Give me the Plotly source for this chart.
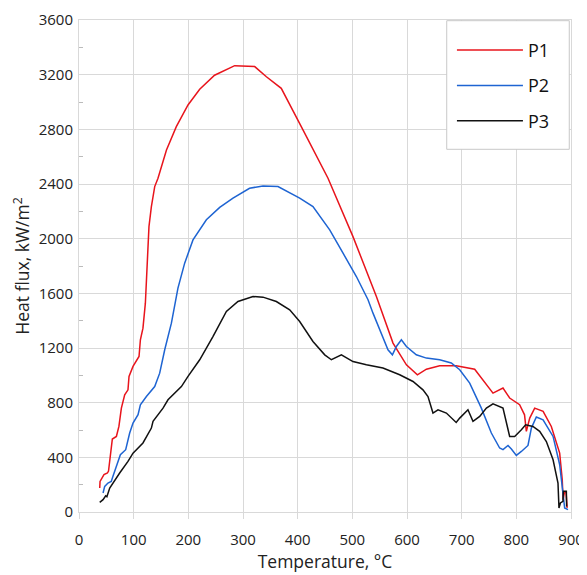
import plotly.graph_objects as go

# P1 (red)
p1_t = [37.9, 38.5, 45.7, 52, 54, 61, 68.4, 73, 77.5, 83.6, 89.6, 91.5, 98.8, 109.8, 112.3, 117,
        121.4, 123.2, 126.2, 128, 132.4, 138.5, 144.5, 160, 178, 199.4, 220.8, 248, 284.8, 321.4,
        342.8, 370, 409.7, 455.5, 501.2, 544, 574.4, 598.9, 619, 635.5, 659.8, 690, 723.8, 757.3,
        775.6, 787.8, 806, 815, 818.3, 824.5, 833.6, 849, 864, 879.3, 884, 885.5, 888.4, 891, 893]
p1_v = [175, 224, 273, 285, 300, 534, 553, 626, 760, 858, 894, 992, 1065, 1138, 1260, 1345,
        1528, 1699, 1869, 2088, 2235, 2381, 2442, 2649, 2820, 2978, 3093, 3196, 3266, 3259,
        3185, 3100, 2796, 2442, 2015, 1577, 1236, 1077, 1004, 1045, 1070, 1070, 1045, 870,
        907, 834, 785, 711, 590, 687, 760, 736, 626, 431, 236, 90, 151, 140, 30]

# P2 (blue)
p2_t = [44, 47, 53, 59, 62, 71.3, 75.7, 85.4, 92.7, 98.8, 108, 112.3, 123.3, 138.5, 147.6, 156.8,
        169, 181, 193.3, 208.5, 233, 257.4, 281.7, 312, 336.6, 364, 403.7, 428, 458.6, 483, 507.4,
        528.7, 537.8, 565.2, 573.3, 580.6, 589.7, 598.9, 617, 635.5, 659.8, 681, 696.4, 714.7, 736,
        754.3, 769.5, 775.6, 784.8, 790.9, 800, 809.2, 821.3, 827.5, 836.6, 848.9, 867.2, 879.3,
        885.3, 888.4, 894.5]
p2_v = [139, 187, 212, 224, 260, 370, 419, 456, 578, 651, 712, 785, 845, 918, 1016, 1187,
        1382, 1638, 1821, 1991, 2138, 2229, 2296, 2369, 2386, 2381, 2296, 2235, 2064, 1894, 1723,
        1553, 1455, 1187, 1150, 1211, 1260, 1211, 1150, 1126, 1114, 1090, 1041, 943, 760,
        578, 468, 456, 487, 461, 414, 443, 487, 614, 695, 675, 553, 346,
        163, 29, 17]

# P3 (black)
p3_t = [37.9, 44, 48.8, 51, 56.2, 62.2, 74.4, 89.6, 98.8, 117, 123.3, 132.4, 135.4, 147.6, 153.7,
        162.8, 175, 187.3, 199.4, 220.8, 245, 269.6, 290.8, 318.3, 336.6, 361, 385.4, 403.7, 428,
        449.5, 461.7, 480, 501.2, 525.7, 556, 586.6, 611, 629.2, 638.4, 647.5, 656.7, 672, 690,
        696.4, 711.5, 720.7, 733, 745.2, 757.3, 775.6, 787.8, 797, 809.2, 817, 830.4, 842.7,
        854.9, 867.2, 876.2, 878, 880.6, 885.3, 886, 888.4, 891.5, 892]
p3_v = [70, 90, 119, 112, 175, 212, 285, 370, 431, 505, 553, 614, 663, 724, 760,
        821, 870, 918, 992, 1114, 1284, 1467, 1540, 1577, 1572, 1540, 1479, 1394, 1248,
        1150, 1114, 1150, 1101, 1077, 1053, 1004, 955, 894, 845, 724, 748, 724, 655,
        687, 748, 663, 699, 760, 792, 760, 553, 553, 602, 638, 626, 590,
        516, 382, 212, 29, 66, 78, 151, 151, 151, 40]

x_ticks = [0, 100, 200, 300, 400, 500, 600, 700, 800, 900]
y_ticks = [0, 400, 800, 1200, 1600, 2000, 2400, 2800, 3200, 3600]
y_minor = [200, 600, 1000, 1400, 1800, 2200, 2600, 3000, 3400]

FONT = "Open Sans"
GRID = "#d9d9d9"

fig = go.Figure()
fig.add_trace(go.Scatter(x=p1_t, y=p1_v, mode="lines", name="P1", legendgroup="a",
                         line=dict(color="#e8141c", width=1.5)))
fig.add_trace(go.Scatter(x=p2_t, y=p2_v, mode="lines", name="P2", legendgroup="b",
                         line=dict(color="#1e64d2", width=1.5)))
fig.add_trace(go.Scatter(x=p3_t, y=p3_v, mode="lines", name="P3", legendgroup="c",
                         line=dict(color="#111111", width=1.5)))

# legend frame
fig.add_shape(type="rect", xref="paper", yref="paper",
              x0=0.7474, x1=0.9965, y0=0.7372, y1=0.9986,
              line=dict(color="#c8c8c8", width=1), fillcolor="white", layer="above")

# page body adds an 8px margin, so the figure is sized to fit the window
fig.update_layout(
    width=579, height=567,
    margin=dict(l=71, r=16, t=12, b=63, autoexpand=False),
    paper_bgcolor="white", plot_bgcolor="white",
    font=dict(family=FONT, size=15, color="#222222"),
    legend=dict(x=0.758, y=0.976, xanchor="left", yanchor="top",
                borderwidth=0, bgcolor="rgba(0,0,0,0)",
                font=dict(size=18, family=FONT, color="#111111"),
                tracegroupgap=9, itemwidth=66),
    xaxis=dict(range=[0, 900], tickvals=x_ticks, ticktext=[str(v) for v in x_ticks],
               showgrid=True, gridcolor=GRID, gridwidth=1, automargin=False,
               showline=True, linecolor=GRID, linewidth=1, mirror=True,
               ticks="outside", ticklen=6, tickcolor=GRID, zeroline=False,
               ticklabelstandoff=8,
               title=dict(text="Temperature, °C", font=dict(size=17.5), standoff=4)),
    yaxis=dict(range=[0, 3600], tickvals=y_ticks, ticktext=[str(v) for v in y_ticks],
               showgrid=True, gridcolor=GRID, gridwidth=1, automargin=False,
               showline=True, linecolor=GRID, linewidth=1, mirror=True,
               ticks="", zeroline=False, ticklabelstandoff=2,
               minor=dict(tickvals=y_minor, ticks="inside", ticklen=4,
                          tickcolor="#bbbbbb", showgrid=False),
               title=dict(text="Heat flux, kW/m<sup>2</sup>", font=dict(size=17.5), standoff=4)),
)

fig.write_html("out.html")
